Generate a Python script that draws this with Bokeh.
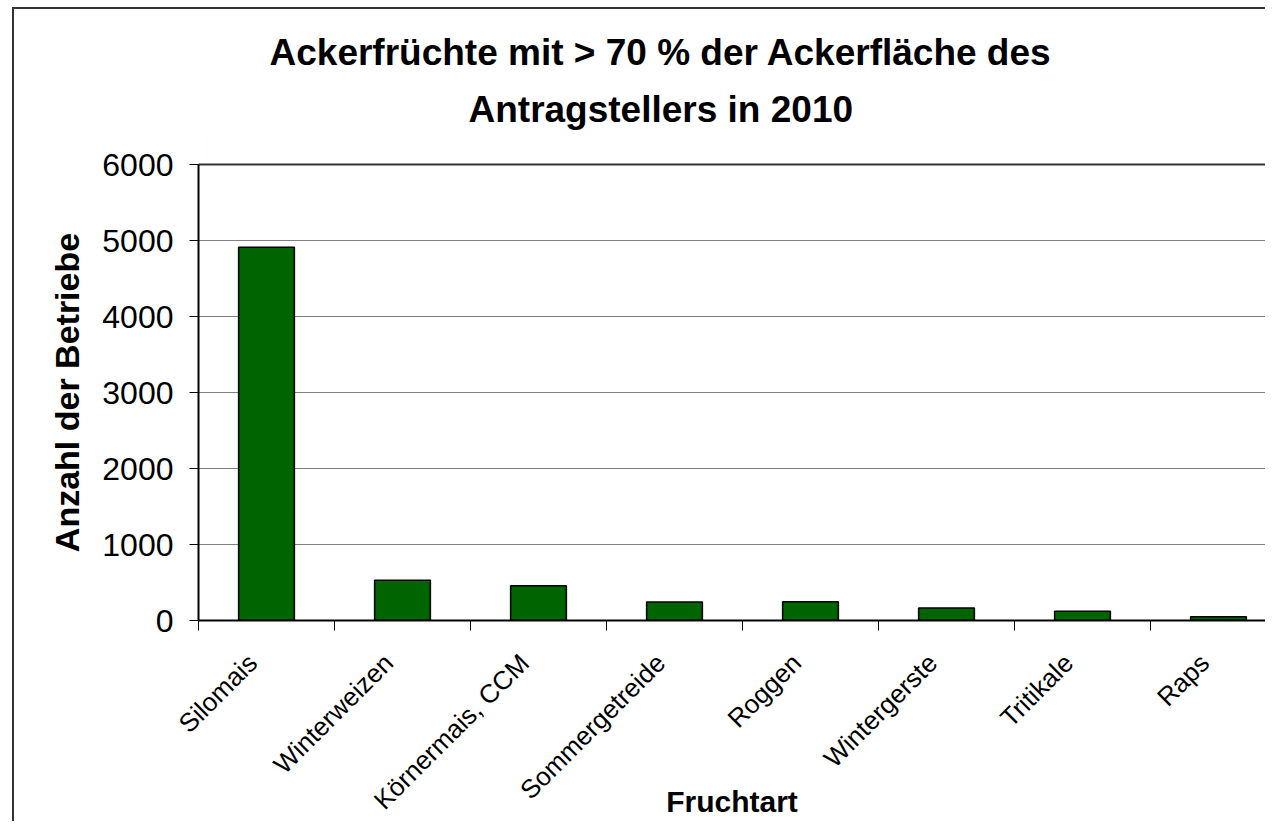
from math import pi
import numpy as np
from bokeh.plotting import figure
from bokeh.models import Range1d, FixedTicker, LinearAxis, Title, ColumnDataSource
from bokeh.embed import file_html
from bokeh.resources import INLINE

categories = ["Silomais", "Winterweizen", "Körnermais, CCM", "Sommergetreide",
              "Roggen", "Wintergerste", "Tritikale", "Raps"]
values = [4910, 530, 457, 244, 248, 166, 121, 48]
y_ticks = [0, 1000, 2000, 3000, 4000, 5000, 6000]
title_lines = ["Ackerfrüchte mit > 70 % der Ackerfläche des", "Antragstellers in 2010"]
x_title = "Fruchtart"
y_title = "Anzahl der Betriebe"

FONT = "Liberation Sans"
n = len(categories)
xpos = np.arange(n) + 0.5
src = ColumnDataSource(dict(x=xpos, top=values, cat=categories))

W, H = 1265, 821
FL, FT, FB = 198, 164, 201
CAT_PX = 136
x_end = (W - FL) / CAT_PX
LABEL_SHIFT = 14 / CAT_PX  # rotated labels end a little left of the category centre

p = figure(width=W, height=H, x_range=Range1d(0, x_end), y_range=Range1d(0, 6000),
           output_backend="svg", toolbar_location=None,
           min_border_left=FL, min_border_top=FT, min_border_bottom=FB, min_border_right=0,
           outline_line_color=None, background_fill_color="white", border_fill_color=None)
# outer chart-area frame: left and top edges (the others lie outside the picture)
p.styles = {"background": "linear-gradient(#333333, #333333) 12px 7px / 2px 3000px no-repeat, "
                          "linear-gradient(#333333, #333333) 12px 7px / 3000px 2px no-repeat, "
                          "#ffffff"}

p.vbar(x="x", top="top", width=0.41, source=src, fill_color="#006400",
       line_color="black", line_width=1.5)

label_ticks = [float(v - LABEL_SHIFT) for v in xpos]
xa = p.xaxis[0]
xa.ticker = FixedTicker(ticks=label_ticks, minor_ticks=list(range(n + 1)))
xa.major_label_overrides = {t: c for t, c in zip(label_ticks, categories)}
xa.major_tick_line_color = None
xa.major_tick_out = 0
xa.major_tick_in = 0
xa.minor_tick_out = 10
xa.minor_tick_in = 0
xa.minor_tick_line_color = "black"
xa.minor_tick_line_width = 1
xa.axis_line_color = "black"
xa.axis_line_width = 2
xa.major_label_orientation = pi / 4
xa.major_label_text_font = FONT
xa.major_label_text_font_size = "26px"
xa.major_label_text_color = "black"
xa.major_label_standoff = 28
xa.axis_label = x_title
xa.axis_label_text_font = FONT
xa.axis_label_text_font_style = "bold"
xa.axis_label_text_font_size = "30px"
xa.axis_label_text_color = "black"
xa.axis_label_standoff = -44

ya = p.yaxis[0]
ya.ticker = FixedTicker(ticks=y_ticks, minor_ticks=[])
ya.major_tick_out = 9
ya.major_tick_in = 0
ya.major_tick_line_color = "black"
ya.axis_line_color = "black"
ya.axis_line_width = 2
ya.major_label_text_font = FONT
ya.major_label_text_font_size = "32px"
ya.major_label_text_color = "black"
ya.major_label_standoff = 16
ya.axis_label = y_title
ya.axis_label_text_font = FONT
ya.axis_label_text_font_style = "bold"
ya.axis_label_text_font_size = "34px"
ya.axis_label_text_color = "black"
ya.axis_label_standoff = 13

p.xgrid.visible = False
p.ygrid.ticker = FixedTicker(ticks=y_ticks, minor_ticks=[])
p.ygrid.grid_line_color = "#808080"
p.ygrid.grid_line_width = 1

# top edge of the plot area; its (practically invisible) tick leaves the gap below the title
spacer_tick = [0.05]
top = LinearAxis(ticker=FixedTicker(ticks=spacer_tick, minor_ticks=[]),
                 major_label_overrides={spacer_tick[0]: ""},
                 major_label_text_font_size="0px", major_label_standoff=0,
                 major_tick_line_color="black", major_tick_line_alpha=0.01,
                 major_tick_line_width=1,
                 minor_tick_line_color=None, major_tick_out=35, major_tick_in=0,
                 axis_line_color="#333333", axis_line_width=2)
p.add_layout(top, "above")

# second title line (nearest the plot area) first, then the first line above it
p.add_layout(Title(text=title_lines[1], align="left", offset=270, standoff=0,
                   vertical_align="bottom", text_font=FONT, text_font_style="bold",
                   text_font_size="37px", text_color="black"), "above")
p.add_layout(Title(text=title_lines[0], align="left", offset=71, standoff=27,
                   vertical_align="bottom", text_font=FONT, text_font_style="bold",
                   text_font_size="37px", text_color="black"), "above")

open("out.html", "w").write(file_html(p, INLINE))
